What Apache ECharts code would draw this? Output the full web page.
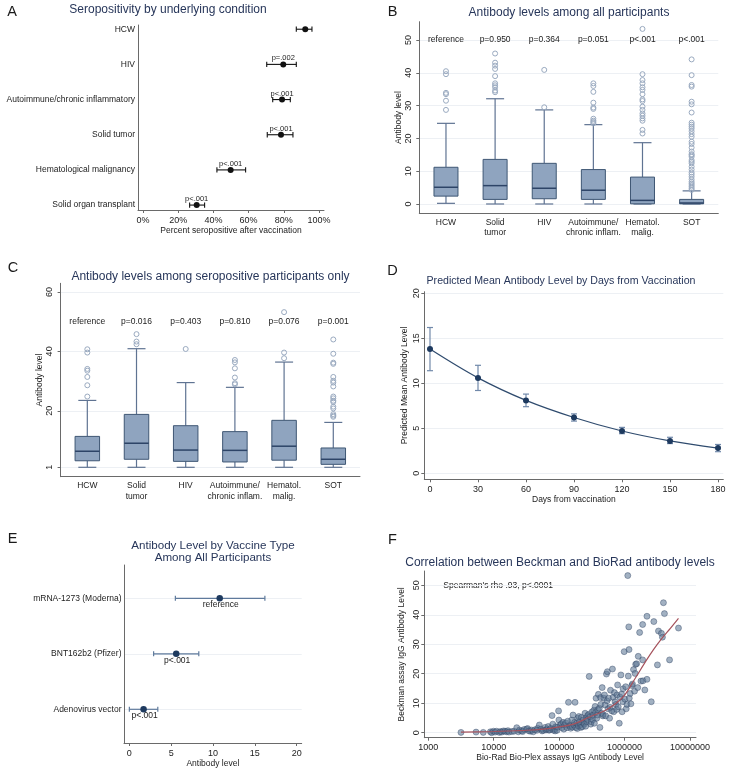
<!DOCTYPE html>
<html><head><meta charset="utf-8">
<script src="https://cdn.jsdelivr.net/npm/echarts@6/dist/echarts.min.js"></script>
<style>html,body{margin:0;padding:0;background:#fff}#c{width:730px;height:772px}</style>
</head><body><div id="c"></div>
<script>
// ---------- Panel A ----------
const aCategories = ['HCW','HIV','Autoimmune/chronic inflammatory','Solid tumor','Hematological malignancy','Solid organ transplant'];
const aPercent = [92.2, 79.7, 79.0, 78.4, 49.8, 30.5];
const aLow = [87.1, 70.3, 73.7, 70.6, 42.0, 26.5];
const aHigh = [96.0, 87.1, 83.7, 85.2, 58.3, 35.0];
const aPLabels = ['', 'p=.002', 'p<.001', 'p<.001', 'p<.001', 'p<.001'];
const aTicks = [0, 20, 40, 60, 80, 100];

// ---------- Panels B & C ----------
const boxCategories = ['HCW','Solid\ntumor','HIV','Autoimmune/\nchronic inflam.','Hematol.\nmalig.','SOT'];
const bMin = [0.2, 0, 0, 0, 0, 0];
const bQ1 = [2.4, 1.4, 1.6, 1.4, 0.05, 0.05];
const bMedian = [5.1, 5.6, 4.8, 4.2, 1.1, 0.3];
const bQ3 = [11.2, 13.6, 12.4, 10.5, 8.2, 1.4];
const bMax = [24.6, 32.1, 28.7, 24.2, 18.7, 4.0];
const bOutliers = [
  [40.5, 39.6, 33.9, 33.5, 31.5, 28.7],
  [45.9, 43.1, 42.2, 41.2, 39.0, 36.8, 36.2, 35.6, 34.6, 34.1],
  [40.9, 29.5],
  [36.8, 36.0, 34.2, 30.9, 29.4, 29.0, 26.0, 25.4, 25.0, 24.6],
  [53.4, 39.6, 37.8, 36.8, 35.6, 34.8, 33.5, 31.9, 31.4, 29.7, 28.7, 27.6, 26.9, 26.1, 25.4, 22.6, 21.5],
  [44.1, 39.3, 36.3, 35.8, 31.2, 30.4, 27.9, 24.8, 24.2, 23.6, 23.0, 22.2, 21.3, 20.5, 19.0, 18.3, 17.2, 16.0, 15.2, 14.9, 14.4, 13.4, 12.9, 12.4, 11.4, 10.5, 9.6, 9.0, 8.3, 7.5, 6.8, 6.3, 5.8, 5.3, 4.8, 4.3]
];
const bPLabels = ['reference','p=0.950','p=0.364','p=0.051','p<.001','p<.001'];
const bTicks = [0, 10, 20, 30, 40, 50];

const cMin = [1, 1, 1, 1, 1, 1];
const cQ1 = [3.2, 3.7, 3.0, 2.8, 3.4, 2.0];
const cMedian = [6.4, 9.1, 6.8, 6.7, 8.1, 3.7];
const cQ3 = [11.4, 18.8, 15.0, 13.0, 16.8, 7.5];
const cMax = [23.5, 40.9, 29.5, 27.9, 36.4, 16.1];
const cOutliers = [
  [40.7, 39.6, 34.1, 33.5, 31.4, 28.6, 24.8],
  [45.8, 43.3, 42.4],
  [40.8],
  [37.1, 36.3, 34.3, 31.2, 29.3, 28.9],
  [53.2, 39.6, 37.7],
  [44.0, 39.2, 36.2, 35.8, 31.4, 30.1, 29.5, 28.2, 24.8, 24.2, 23.4, 23.0, 21.4, 20.8, 18.9, 18.4, 18.0]
];
const cPLabels = ['reference','p=0.016','p=0.403','p=0.810','p=0.076','p=0.001'];
const cTicks = [1, 20, 40, 60];
const pLabelLevel = 50;

// ---------- Panel D ----------
const dDays = [0, 30, 60, 90, 120, 150, 180];
const dMean = [13.8, 10.6, 8.1, 6.2, 4.7, 3.6, 2.8];
const dLow = [11.4, 9.2, 7.4, 5.8, 4.4, 3.3, 2.4];
const dHigh = [16.2, 12.0, 8.8, 6.6, 5.1, 4.0, 3.2];
const dXTicks = [0, 30, 60, 90, 120, 150, 180];
const dYTicks = [0, 5, 10, 15, 20];

// ---------- Panel E ----------
const eCategories = ['mRNA-1273 (Moderna)','BNT162b2 (Pfizer)','Adenovirus vector'];
const eMean = [10.8, 5.6, 1.7];
const eLow = [5.5, 2.9, 0.0];
const eHigh = [16.2, 8.3, 3.4];
const ePLabels = ['reference','p<.001','p<.001'];
const eTicks = [0, 5, 10, 15, 20];

// ---------- Panel F ----------
const fBioRad = [3160,5370,6920,8900,9300,9900,10500,11100,12200,12700,13300,14100,14900,15800,16500,17100,19000,20500,22500,23800,24800,26700,27800,29300,31800,33000,34500,36500,38000,40200,42700,45800,47000,49800,52900,55000,57600,61000,63000,65000,68000,70000,72000,75000,78000,80000,82000,85000,87000,89000,93000,95000,98000,99000,104000,108000,110000,115000,118000,121000,126000,132000,135000,139000,144000,147000,150000,156000,160000,163000,169000,172000,175000,180000,186000,190000,193000,197000,200000,204000,212000,215000,219000,227000,234000,238000,243000,249000,255000,258000,264000,270000,273000,283000,288000,298000,305000,309000,316000,327000,330000,338000,346000,355000,360000,367000,376000,384000,390000,398000,411000,420000,430000,435000,445000,455000,466000,470000,482000,493000,504000,516000,528000,540000,546000,558000,571000,590000,600000,610000,638000,653000,668000,684000,700000,715000,740000,760000,765000,783000,801000,830000,850000,879000,900000,918000,942000,950000,987000,1010000,1040000,1060000,1090000,1120000,1140000,1160000,1170000,1180000,1220000,1250000,1290000,1320000,1370000,1420000,1450000,1480000,1530000,1590000,1620000,1700000,1780000,1890000,1890000,1910000,2040000,2200000,2200000,2560000,2800000,3180000,3300000,3660000,3790000,3930000,4070000,4870000,6670000];
const fBeckman = [0.1,0.2,0.1,0.3,0.0,0.5,0.2,0.5,0.1,0.4,0.2,0.6,0.5,0.3,0.7,0.2,0.4,0.5,1.7,0.3,0.9,0.6,0.4,1.1,1.2,1.4,0.6,0.5,0.9,0.3,1.0,0.8,1.5,2.6,1.2,0.6,0.8,1.8,0.9,1.2,2.1,0.8,1.0,1.5,5.8,2.9,0.8,1.2,0.6,2.0,0.8,1.9,7.4,4.3,2.6,3.0,1.7,3.5,1.2,2.6,3.3,1.7,3.9,10.3,2.4,2.1,1.5,4.3,1.9,6.0,2.6,3.5,10.3,1.7,3.2,1.4,4.9,2.3,5.5,3.7,2.6,1.8,5.2,2.0,4.3,3.3,2.9,6.6,2.2,4.9,3.7,4.5,5.8,6.2,19.1,5.4,2.9,3.7,7.0,4.4,5.9,7.6,3.2,8.9,6.8,11.7,4.9,6.0,7.8,13.0,8.3,1.8,11.9,9.6,6.6,15.3,5.7,6.2,11.7,12.8,9.4,5.7,19.9,10.8,20.7,8.1,11.7,4.9,8.6,14.4,7.4,21.6,12.0,7.1,13.6,10.5,9.6,7.9,12.8,16.2,8.8,3.2,12.1,19.6,13.1,7.1,10.5,14.9,27.5,11.4,15.6,8.1,9.6,53.3,19.2,35.9,28.2,11.7,13.3,9.8,16.0,16.5,21.4,14.1,20.1,23.2,23.4,15.3,25.9,34.0,17.5,36.7,24.7,17.6,14.5,39.5,18.1,10.5,37.7,23.0,34.5,33.7,32.4,44.1,40.4,24.7,35.5];
const fLowessX = [3160, 10000, 30000, 51000, 100000, 166000, 295000, 537000, 955000, 1450000, 2090000, 2750000, 3720000, 5010000, 6670000];
const fLowessY = [0.2, 0.4, 0.8, 1.1, 2.0, 2.9, 5.4, 7.9, 12.2, 18.4, 24.1, 28.1, 32.0, 35.4, 38.8];
const fXTicks = [1000, 10000, 100000, 1000000, 10000000];
const fYTicks = [0, 10, 20, 30, 40, 50];

// ---------- style ----------
const FONT = '"Liberation Sans", Arial, Helvetica, sans-serif';
const TXT = '#222222';
const TITLE = '#27365a';
const AXC = '#6a6a6a';
const GRIDC = '#edf0f4';
const BOXFILL = '#8fa4bf', BOXLINE = '#3f5774', WHISK = '#5f7392', MED = '#2d4467', OUTL = '#9aaac0';
const NAVY = '#1e3a5f';

function lbl(extra) { return Object.assign({ color: TXT, fontFamily: FONT, fontSize: 9 }, extra); }
function nameStyle() { return { color: TXT, fontFamily: FONT, fontSize: 8.5 }; }

function hErr(capH, color, lw) {
  return function (params, api) {
    const lo = api.coord([api.value(0), api.value(2)]);
    const hi = api.coord([api.value(1), api.value(2)]);
    const y = lo[1];
    const st = { stroke: color, lineWidth: lw };
    return { type: 'group', children: [
      { type: 'line', shape: { x1: lo[0], y1: y, x2: hi[0], y2: y }, style: st },
      { type: 'line', shape: { x1: lo[0], y1: y - capH / 2, x2: lo[0], y2: y + capH / 2 }, style: st },
      { type: 'line', shape: { x1: hi[0], y1: y - capH / 2, x2: hi[0], y2: y + capH / 2 }, style: st }
    ]};
  };
}
function vErr(capW, color, lw) {
  return function (params, api) {
    const lo = api.coord([api.value(0), api.value(1)]);
    const hi = api.coord([api.value(0), api.value(2)]);
    const x = lo[0];
    const st = { stroke: color, lineWidth: lw };
    return { type: 'group', children: [
      { type: 'line', shape: { x1: x, y1: lo[1], x2: x, y2: hi[1] }, style: st },
      { type: 'line', shape: { x1: x - capW / 2, y1: lo[1], x2: x + capW / 2, y2: lo[1] }, style: st },
      { type: 'line', shape: { x1: x - capW / 2, y1: hi[1], x2: x + capW / 2, y2: hi[1] }, style: st }
    ]};
  };
}
function boxRender(bw, cw) {
  return function (params, api) {
    const x = api.value(0);
    const pMin = api.coord([x, api.value(1)]);
    const pQ1 = api.coord([x, api.value(2)]);
    const pMed = api.coord([x, api.value(3)]);
    const pQ3 = api.coord([x, api.value(4)]);
    const pMax = api.coord([x, api.value(5)]);
    const cx = pMed[0];
    const ws = { stroke: WHISK, lineWidth: 1.2 };
    return { type: 'group', children: [
      { type: 'line', shape: { x1: cx, y1: pQ3[1], x2: cx, y2: pMax[1] }, style: ws },
      { type: 'line', shape: { x1: cx, y1: pQ1[1], x2: cx, y2: pMin[1] }, style: ws },
      { type: 'line', shape: { x1: cx - cw / 2, y1: pMax[1], x2: cx + cw / 2, y2: pMax[1] }, style: ws },
      { type: 'line', shape: { x1: cx - cw / 2, y1: pMin[1], x2: cx + cw / 2, y2: pMin[1] }, style: ws },
      { type: 'rect', shape: { x: cx - bw / 2, y: pQ3[1], width: bw, height: Math.max(pQ1[1] - pQ3[1], 0.5) }, style: { fill: BOXFILL, stroke: BOXLINE, lineWidth: 1 } },
      { type: 'line', shape: { x1: cx - bw / 2, y1: pMed[1], x2: cx + bw / 2, y2: pMed[1] }, style: { stroke: MED, lineWidth: 1.5 } }
    ]};
  };
}
function textRender(texts, dx, dy, size) {
  return function (params, api) {
    const p = api.coord([api.value(0), api.value(1)]);
    return { type: 'text', x: p[0] + dx, y: p[1] + dy, style: {
      text: texts[params.dataIndex], fontSize: size, fontFamily: FONT, fill: TXT,
      align: 'center', verticalAlign: 'middle', textAlign: 'center', textVerticalAlign: 'middle' } };
  };
}

// ---------- build data ----------
const idx6 = [0, 1, 2, 3, 4, 5];
const aErrData = aCategories.map((c, i) => [aLow[i], aHigh[i], 5 - i]);
const aPtData = aCategories.map((c, i) => [aPercent[i], 5 - i]);
const bBoxData = idx6.map(i => [i, bMin[i], bQ1[i], bMedian[i], bQ3[i], bMax[i]]);
const cBoxData = idx6.map(i => [i, cMin[i], cQ1[i], cMedian[i], cQ3[i], cMax[i]]);
const bOutData = [], cOutData = [];
bOutliers.forEach((arr, i) => arr.forEach(v => bOutData.push([i, v])));
cOutliers.forEach((arr, i) => arr.forEach(v => cOutData.push([i, v])));
const bPData = idx6.map(i => [i, pLabelLevel]);
const dErrData = dDays.map((d, i) => [d, dLow[i], dHigh[i]]);
const dLineData = dDays.map((d, i) => [d, dMean[i]]);
const eErrData = eCategories.map((c, i) => [eLow[i], eHigh[i], 2 - i]);
const ePtData = eCategories.map((c, i) => [eMean[i], 2 - i]);
const fData = fBioRad.map((x, i) => [Math.log10(x), fBeckman[i]]);
const fLineData = fLowessX.map((x, i) => [Math.log10(x), fLowessY[i]]);
const fXTickPos = fXTicks.map(v => Math.log10(v));

function gridDef(left, top, width, height) {
  return { left, top, width, height, containLabel: false, outerBoundsMode: 'none', show: false };
}
const axLine = { show: true, onZero: false, lineStyle: { color: AXC, width: 1 } };
function xTicks(vals, show) { return { show: show, length: 3, customValues: vals, lineStyle: { color: AXC } }; }

const option = {
  animation: false,
  backgroundColor: '#ffffff',
  grid: [
    gridDef(138, 25, 186, 185),
    gridDef(419.3, 21.7, 299, 191.6),
    gridDef(60.6, 283.3, 299.4, 193.4),
    gridDef(424.3, 291.7, 299, 187.6),
    gridDef(124, 565, 177.7, 178),
    gridDef(424.3, 571, 271.7, 166.7)
  ],
  xAxis: [
    { gridIndex: 0, type: 'value', min: -2.84, max: 102.84, axisLine: axLine, axisTick: xTicks(aTicks, true),
      axisLabel: lbl({ customValues: aTicks, formatter: v => v + '%', margin: 6 }), splitLine: { show: false },
      name: 'Percent seropositive after vaccination', nameLocation: 'middle', nameGap: 15, nameTextStyle: nameStyle() },
    { gridIndex: 1, type: 'value', min: -0.543, max: 5.543, axisLine: axLine, axisTick: xTicks(idx6, false),
      axisLabel: lbl({ customValues: idx6, formatter: v => boxCategories[v], margin: 4, fontSize: 8.5, lineHeight: 10.5 }), splitLine: { show: false } },
    { gridIndex: 2, type: 'value', min: -0.543, max: 5.543, axisLine: axLine, axisTick: xTicks(idx6, false),
      axisLabel: lbl({ customValues: idx6, formatter: v => boxCategories[v], margin: 4, fontSize: 8.5, lineHeight: 10.5 }), splitLine: { show: false } },
    { gridIndex: 3, type: 'value', min: -3.56, max: 183.3, axisLine: axLine, axisTick: xTicks(dXTicks, true),
      axisLabel: lbl({ customValues: dXTicks, margin: 5.5 }), splitLine: { show: false },
      name: 'Days from vaccination', nameLocation: 'middle', nameGap: 14.7, nameTextStyle: nameStyle() },
    { gridIndex: 4, type: 'value', min: -0.64, max: 20.6, axisLine: axLine, axisTick: xTicks(eTicks, true),
      axisLabel: lbl({ customValues: eTicks, margin: 5.8 }), splitLine: { show: false },
      name: 'Antibody level', nameLocation: 'middle', nameGap: 15, nameTextStyle: nameStyle() },
    { gridIndex: 5, type: 'value', min: 2.939, max: 7.092, axisLine: axLine, axisTick: xTicks(fXTickPos, true),
      axisLabel: lbl({ customValues: fXTickPos, formatter: v => String(Math.round(Math.pow(10, v))), margin: 5.5 }), splitLine: { show: false },
      name: 'Bio-Rad Bio-Plex assays IgG Antibody Level', nameLocation: 'middle', nameGap: 14.7, nameTextStyle: nameStyle() }
  ],
  yAxis: [
    { gridIndex: 0, type: 'value', min: -0.14, max: 5.12, axisLine: axLine, axisTick: { show: false, customValues: idx6 },
      axisLabel: lbl({ customValues: idx6, formatter: v => aCategories[5 - v], margin: 3, fontSize: 8.5 }), splitLine: { show: false } },
    { gridIndex: 1, type: 'value', min: -2.84, max: 55.6, axisLine: axLine, axisTick: xTicks(bTicks, true),
      axisLabel: lbl({ customValues: bTicks, rotate: 90, margin: 6.5 }), splitLine: { show: true, lineStyle: { color: GRIDC, width: 1 } },
      name: 'Antibody level', nameLocation: 'middle', nameGap: 13.5, nameTextStyle: nameStyle() },
    { gridIndex: 2, type: 'value', min: -2.16, max: 62.9, axisLine: axLine, axisTick: xTicks(cTicks, true),
      axisLabel: lbl({ customValues: cTicks, rotate: 90, margin: 6.5 }), splitLine: { show: true, lineStyle: { color: GRIDC, width: 1 } },
      name: 'Antibody level', nameLocation: 'middle', nameGap: 13.5, nameTextStyle: nameStyle() },
    { gridIndex: 3, type: 'value', min: -0.67, max: 20.18, axisLine: axLine, axisTick: xTicks(dYTicks, true),
      axisLabel: lbl({ customValues: dYTicks, rotate: 90, margin: 3.5 }), splitLine: { show: true, lineStyle: { color: GRIDC, width: 1 } },
      name: 'Predicted Mean Antibody Level', nameLocation: 'middle', nameGap: 15, nameTextStyle: nameStyle() },
    { gridIndex: 4, type: 'value', min: -0.607, max: 2.6, axisLine: axLine, axisTick: { show: false, customValues: [0, 1, 2] },
      axisLabel: lbl({ customValues: [0, 1, 2], formatter: v => eCategories[2 - v], margin: 2.5, fontSize: 8.5 }),
      splitLine: { show: true, lineStyle: { color: GRIDC, width: 1 } } },
    { gridIndex: 5, type: 'value', min: -1.7, max: 54.86, axisLine: axLine, axisTick: xTicks(fYTicks, true),
      axisLabel: lbl({ customValues: fYTicks, rotate: 90, margin: 3.5 }), splitLine: { show: true, lineStyle: { color: GRIDC, width: 1 } },
      name: 'Beckman assay IgG Antibody Level', nameLocation: 'middle', nameGap: 18.5, nameTextStyle: nameStyle() }
  ],
  series: [
    // A
    { type: 'custom', xAxisIndex: 0, yAxisIndex: 0, data: aErrData, encode: { x: [0, 1], y: 2 }, renderItem: hErr(5.3, '#111', 1.1), silent: true },
    { type: 'scatter', xAxisIndex: 0, yAxisIndex: 0, data: aPtData, symbolSize: 6, itemStyle: { color: '#111', opacity: 1 }, silent: true },
    { type: 'custom', xAxisIndex: 0, yAxisIndex: 0, data: aPtData, encode: { x: 0, y: 1 }, renderItem: textRender(aPLabels, 0, -6, 7.5), silent: true },
    // B
    { type: 'custom', xAxisIndex: 1, yAxisIndex: 1, data: bBoxData, encode: { x: 0, y: [1, 2, 3, 4, 5] }, renderItem: boxRender(24, 18), silent: true },
    { type: 'scatter', xAxisIndex: 1, yAxisIndex: 1, data: bOutData, symbol: 'circle', symbolSize: 5,
      itemStyle: { color: 'rgba(0,0,0,0)', borderColor: OUTL, borderWidth: 1, opacity: 1 }, silent: true },
    { type: 'custom', xAxisIndex: 1, yAxisIndex: 1, data: bPData, encode: { x: 0, y: 1 }, renderItem: textRender(bPLabels, 0, 0, 8.5), silent: true },
    // C
    { type: 'custom', xAxisIndex: 2, yAxisIndex: 2, data: cBoxData, encode: { x: 0, y: [1, 2, 3, 4, 5] }, renderItem: boxRender(24.5, 18), silent: true },
    { type: 'scatter', xAxisIndex: 2, yAxisIndex: 2, data: cOutData, symbol: 'circle', symbolSize: 5,
      itemStyle: { color: 'rgba(0,0,0,0)', borderColor: OUTL, borderWidth: 1, opacity: 1 }, silent: true },
    { type: 'custom', xAxisIndex: 2, yAxisIndex: 2, data: bPData, encode: { x: 0, y: 1 }, renderItem: textRender(cPLabels, 0, 0, 8.5), silent: true },
    // D
    { type: 'custom', xAxisIndex: 3, yAxisIndex: 3, data: dErrData, encode: { x: 0, y: [1, 2] }, renderItem: vErr(6, '#7189aa', 1.2), silent: true },
    { type: 'line', xAxisIndex: 3, yAxisIndex: 3, data: dLineData, smooth: 0.35, symbol: 'circle', symbolSize: 6,
      lineStyle: { color: '#2f4b6e', width: 1.2 }, itemStyle: { color: NAVY }, silent: true },
    // E
    { type: 'custom', xAxisIndex: 4, yAxisIndex: 4, data: eErrData, encode: { x: [0, 1], y: 2 }, renderItem: hErr(5, '#5f7a9c', 1.2), silent: true },
    { type: 'scatter', xAxisIndex: 4, yAxisIndex: 4, data: ePtData, symbolSize: 6.5, itemStyle: { color: NAVY, opacity: 1 }, silent: true },
    { type: 'custom', xAxisIndex: 4, yAxisIndex: 4, data: ePtData, encode: { x: 0, y: 1 }, renderItem: textRender(ePLabels, 1, 6.5, 8.5), silent: true },
    // F
    { type: 'scatter', xAxisIndex: 5, yAxisIndex: 5, data: fData, symbolSize: 6,
      itemStyle: { color: 'rgba(95,120,150,0.58)', borderColor: 'rgba(45,66,96,0.6)', borderWidth: 0.7, opacity: 1 }, silent: true },
    { type: 'line', xAxisIndex: 5, yAxisIndex: 5, data: fLineData, smooth: 0.3, symbol: 'none',
      lineStyle: { color: '#a5525c', width: 1.2 }, silent: true }
  ],
  graphic: [
    ['A', 12, 12], ['B', 392.5, 12], ['C', 13, 268], ['D', 392.5, 270.5], ['E', 12.5, 539], ['F', 392.5, 539.5]
  ].map(t => ({ type: 'text', x: t[1], y: t[2], silent: true,
      style: { text: t[0], fontSize: 14.5, fontFamily: FONT, fill: '#1a1a1a', align: 'center', verticalAlign: 'middle', textAlign: 'center', textVerticalAlign: 'middle' } }))
  .concat([
    ['Seropositivity by underlying condition', 168, 10, 12],
    ['Antibody levels among all participants', 569, 12.7, 12],
    ['Antibody levels among seropositive participants only', 210.5, 276.7, 12],
    ['Predicted Mean Antibody Level by Days from Vaccination', 561, 280.7, 10.6],
    ['Antibody Level by Vaccine Type', 213, 545.3, 11.6],
    ['Among All Participants', 213, 557.7, 11.6],
    ['Correlation between Beckman and BioRad antibody levels', 560, 562.7, 12]
  ].map(t => ({ type: 'text', x: t[1], y: t[2], silent: true,
      style: { text: t[0], fontSize: t[3], fontFamily: FONT, fill: TITLE, align: 'center', verticalAlign: 'middle', textAlign: 'center', textVerticalAlign: 'middle' } })))
  .concat([{ type: 'text', x: 443.3, y: 586, silent: true,
      style: { text: "Spearman's rho .93, p<.0001", fontSize: 8.5, fontFamily: FONT, fill: TXT, align: 'left', verticalAlign: 'middle', textAlign: 'left', textVerticalAlign: 'middle' } }])
};

const chart = echarts.init(document.getElementById('c'), null, { renderer: 'canvas', width: 730, height: 772 });
chart.setOption(option);
</script></body></html>
